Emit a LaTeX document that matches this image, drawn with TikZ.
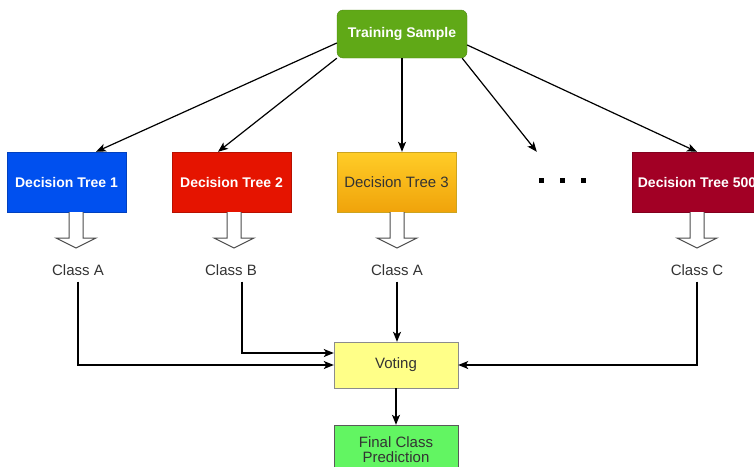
\documentclass[tikz,border=0pt]{standalone}
\usepackage{fontspec}
\setmainfont{Liberation Sans}
\usetikzlibrary{calc,arrows.meta}
\definecolor{trainGreen}{HTML}{60A917}
\definecolor{treeBlue}{HTML}{0050EF}
\definecolor{treeRed}{HTML}{E51400}
\definecolor{treeTop}{HTML}{FFCD28}
\definecolor{treeBottom}{HTML}{F0A30A}
\definecolor{treeDark}{HTML}{A20025}
\definecolor{voteYellow}{HTML}{FFFF88}
\definecolor{finalGreen}{HTML}{62F562}
\definecolor{txtGray}{HTML}{333333}

\begin{document}
\begin{tikzpicture}[x=1pt,y=-1pt,>={Stealth[length=10pt,width=8pt,inset=2.5pt]}]
\tikzstyle{tree}=[rectangle,draw,minimum width=119pt,minimum height=60pt,inner sep=0pt,text=white,font=\fontsize{14}{16}\selectfont\bfseries]
\tikzstyle{plainbox}=[rectangle,minimum width=124pt,inner sep=0pt,text=txtGray,font=\fontsize{15}{17}\selectfont,align=center]
\tikzstyle{classtxt}=[text=txtGray,font=\fontsize{15}{17}\selectfont,inner sep=2pt]
\tikzstyle{hollow}=[draw=black!70,fill=white,line width=1pt]
\tikzstyle{conn}=[->,line width=1.2pt]
\useasboundingbox (0,0) rectangle (754,466);
\clip (0,0) rectangle (754,466);

\node[tree,minimum width=130pt,minimum height=48pt,rounded corners=6pt,fill=trainGreen,draw=trainGreen!80!black] (train) at (402,34) {Training Sample};
\node[tree,fill=treeBlue,draw=treeBlue!80!black] (t1) at (66.5,182) {Decision Tree 1};
\node[tree,fill=treeRed,draw=treeRed!80!black] (t2) at (231.5,182) {Decision Tree 2};
\node[tree,top color=treeTop,bottom color=treeBottom,draw=treeTop!80!black,text=txtGray,font=\fontsize{15}{17}\selectfont] (t3) at (396.5,182) {Decision Tree 3};
\node[tree,minimum width=130pt,fill=treeDark,draw=treeDark!80!black] (t500) at (697,182) {Decision Tree 500};
\node[minimum width=50pt,minimum height=60pt,inner sep=0pt] (dots) at (562,182) {};
\foreach \dx in {-21,0,21}
  \fill ($(dots)+(\dx,-2)$) +(-2.5,-2.5) rectangle +(2.5,2.5);

\foreach \x in {76,234,397,697}
  \draw[hollow] (\x-7,212) -- (\x-7,238) -- (\x-20,238) -- (\x,248) -- (\x+20,238) -- (\x+7,238) -- (\x+7,212);

\foreach \name/\x/\txt in {c1/78/A,c2/231/B,c3/397/A,c500/697/C}
  \node[classtxt] (\name) at (\x,270) {Class \txt};

\node[plainbox,minimum height=46pt,fill=voteYellow,draw=black!45] (vote) at (396,365) {Voting};
\node[plainbox,minimum height=50pt,fill=finalGreen,draw=black!65] (final) at (396,450) {Final Class\\[-2pt]Prediction};

\draw[conn] ($(train.west)+(0,9)$) -- ($(t1.north)+(29.5,0)$);
\draw[conn] (train.south west) -- ($(t2.north)+(-13.5,0)$);
\draw[conn] (train.south) -- (train.south |- t3.north);
\draw[conn] ($(train.south east)+(-5,0)$) -- (dots.north west);
\draw[conn] ($(train.east)+(0,11)$) -- (t500.north);

\draw[conn,shorten <=4pt] (c1.south) |- (vote.west);
\draw[conn,shorten <=4pt] ($(c2.south)+(11,0)$) |- ($(vote.west)+(0,-12)$);
\draw[conn,shorten <=4pt] (c3.south) -- (c3.south |- vote.north);
\draw[conn,shorten <=4pt] (c500.south) |- (vote.east);
\draw[conn] (vote) -- (final);
\end{tikzpicture}
\end{document}
